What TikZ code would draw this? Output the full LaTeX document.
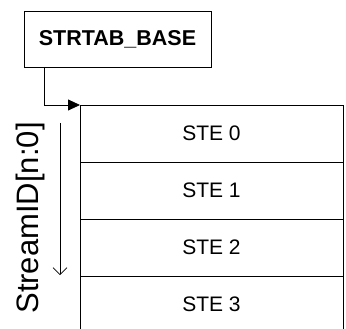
\documentclass[tikz,border=0pt]{standalone}
\usepackage{fontspec}
\setmainfont{Liberation Sans}
\usetikzlibrary{arrows.meta}

\begin{document}
\begin{tikzpicture}[x=1pt, y=-1pt, line width=0.8pt,
  every node/.style={outer sep=0pt, inner sep=0pt},
  entry/.style={draw, minimum width=263pt, minimum height=57pt, font=\fontsize{21}{22}\selectfont}]
\useasboundingbox (0,0) rectangle (346,329);
\node[draw, minimum width=187pt, minimum height=56pt, font=\fontsize{21.5}{23}\selectfont\bfseries] (strtab) at (117.5,39) {STRTAB\_BASE};

\node[entry] (ste0) at (211.5,133.5) {STE 0};
\node[entry] (ste1) at (211.5,190.5) {STE 1};
\node[entry] (ste2) at (211.5,247.5) {STE 2};
\node[entry] (ste3) at (211.5,304.5) {STE 3};

\coordinate (idtop) at (60,123);
\coordinate (idbot) at (60,275);
\node[rotate=90, font=\fontsize{31}{32}\selectfont] (streamid) at (30,218) {StreamID[n:0]};

\draw[-{Triangle[length=12pt, width=11pt]}] ([xshift=20pt]strtab.south west) |- (ste0.north west);
\draw[line width=0.6pt, -{Straight Barb[length=7pt, width=14pt]}] (idtop) -- (idbot);
\end{tikzpicture}
\end{document}
